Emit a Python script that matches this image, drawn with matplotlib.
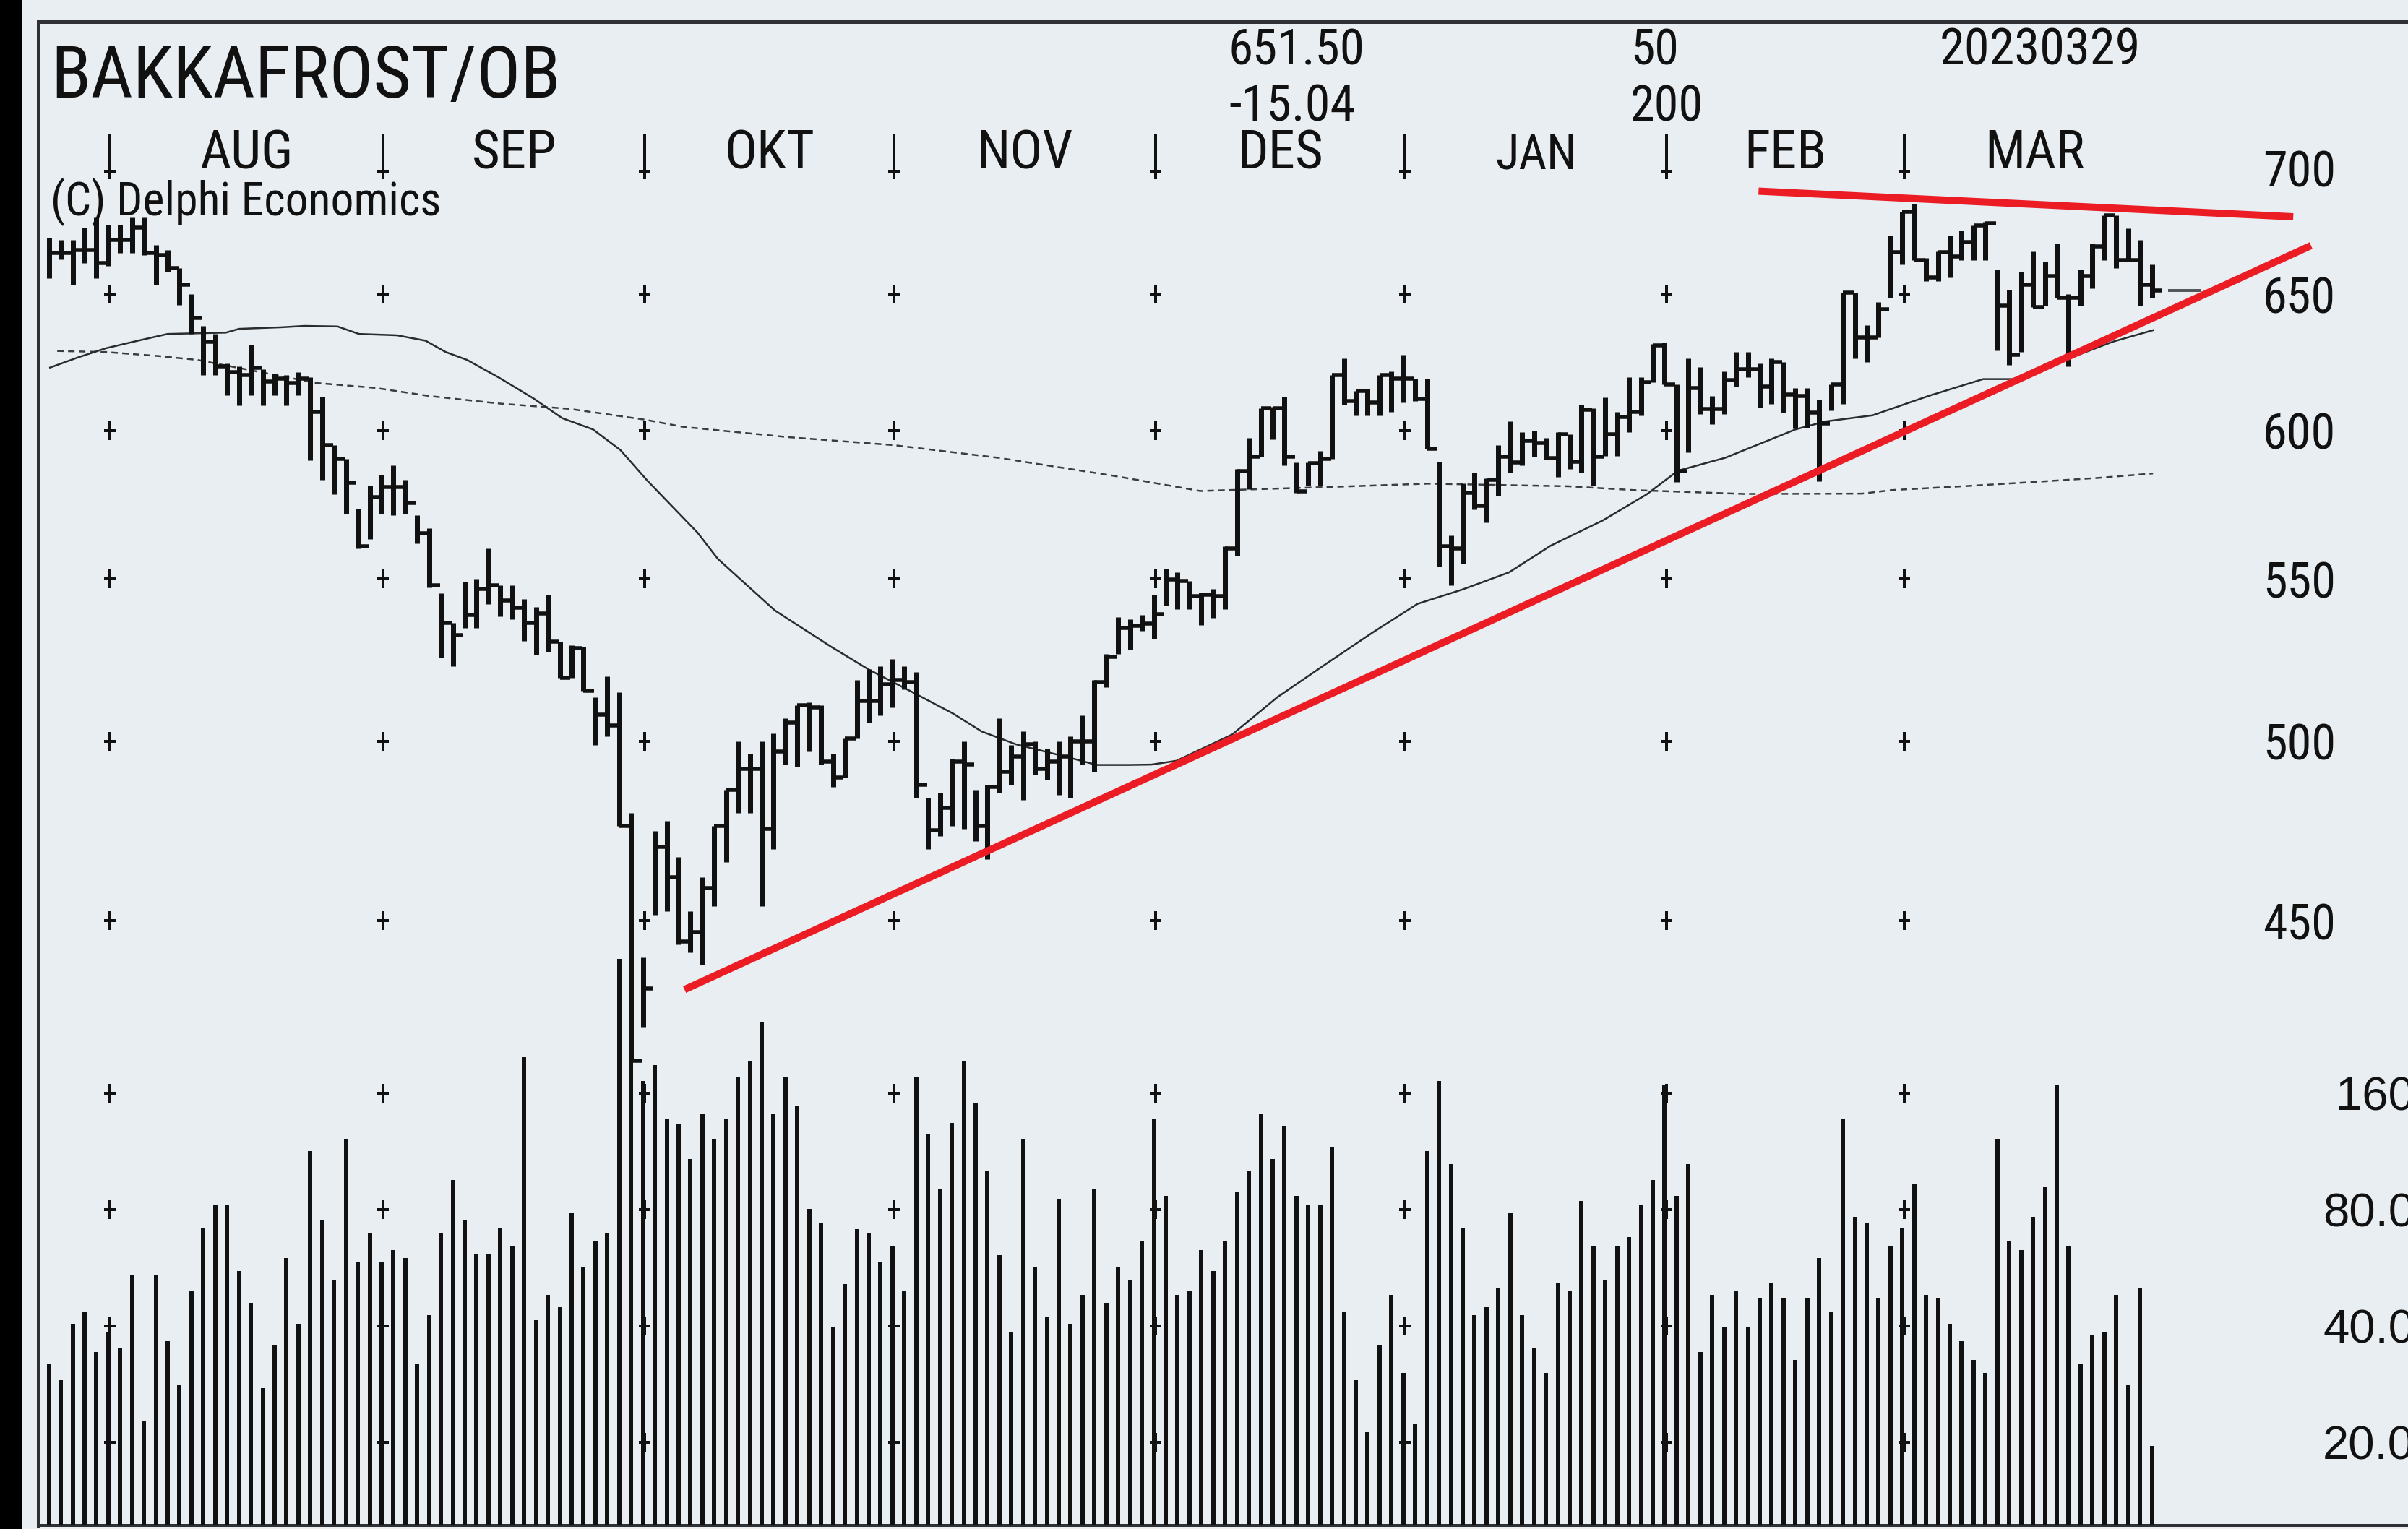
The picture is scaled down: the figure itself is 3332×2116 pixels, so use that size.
import matplotlib
matplotlib.use("Agg")
import matplotlib.pyplot as plt
import numpy as np
from matplotlib import font_manager
from matplotlib.patches import Rectangle
from matplotlib.ticker import FixedLocator, NullLocator

W, H, DPI = 3332, 2116, 100


def pt(pixels):
    # pixel size -> points at this dpi
    return pixels * 72.0 / DPI


# ---- values, one entry per trading day (late Jul 2022 .. 29 Mar 2023) ----
high = [672, 671, 671, 676, 680, 677, 677, 680, 680, 669,
        667, 660, 650, 638, 635, 624, 623, 631, 622, 620.4,
        619.8, 621, 619, 612, 595, 590, 573, 581, 584.6, 588,
        583, 571, 566.5, 545.4, 536, 549, 550, 560, 548, 548,
        543.6, 541, 545, 530, 529, 528.6, 513, 519.5, 514.6, 479.4,
        440.4, 474.3, 477.2, 467.1, 452.6, 461.6, 475.8, 485.9, 500, 496.3,
        500, 502.3, 506.9, 510.7, 511.5, 510.7, 496.3, 500.8, 518.4, 521.6,
        522.4, 524.8, 522.4, 520.8, 483.8, 485.2, 494.8, 500, 485.9, 487.4,
        506.9, 499, 503, 500, 497.8, 500, 501.5, 507.6, 518.4, 526.2,
        537.7, 537, 538.5, 545, 553.4, 552.2, 549.2, 545.6, 546.8, 560.5,
        586.6, 597.5, 608, 608.4, 612, 589, 589, 593, 620, 626,
        614, 615, 620, 621.2, 627.2, 618.5, 618.5, 589.2, 564.3, 581.6,
        585.4, 583.5, 595, 603.3, 599.4, 600, 597.5, 599.4, 598.8, 609.3,
        608, 611.9, 606.7, 619.2, 619.2, 631.4, 631.7, 616.4, 626, 622.7,
        612.3, 621.2, 628.3, 628.3, 624, 626, 624.5, 615.1, 615.1, 610.9,
        616.5, 650.6, 650.6, 638.2, 647.1, 672.6, 682.3, 685.4, 664, 666.6,
        672.6, 674.6, 676.7, 678.3, 659.5, 651.6, 658.5, 666.6, 662.5, 669.6,
        650.1, 659.5, 669.6, 680.8, 680.8, 675.7, 671.1, 661.5]

low = [656, 663.5, 653.5, 662, 656, 661, 666, 666, 665, 653.5,
       658.5, 646, 635, 620, 620, 612.5, 609, 612.5, 609, 612.5,
       609, 612.5, 589.7, 583, 578, 571.4, 560, 563, 571.4, 571,
       571.4, 561.6, 547.2, 525.2, 522.4, 534.3, 534.3, 542, 538, 537,
       530.4, 526, 527, 519, 519, 515, 499, 501.4, 475.8, 414.3,
       422.9, 451.5, 452.6, 443.8, 441.8, 438.5, 453.9, 465.8, 479.4, 479.4,
       453.9, 469.3, 493.3, 492.6, 497, 493.3, 486.7, 489.5, 500.8, 505.4,
       507.6, 510, 515.4, 483.8, 469.3, 472.9, 475.8, 475, 471.5, 466.5,
       485.2, 487.4, 483, 490.3, 488.8, 484.5, 483.8, 493.3, 491.2, 516.2,
       526.2, 527.7, 533.4, 531, 541.5, 540.4, 540.4, 535.2, 537.5, 540.4,
       557.6, 579.7, 591, 597, 588, 578.5, 581, 581, 590, 609.3,
       605.3, 605.3, 605.3, 606.6, 609.9, 610.6, 593.6, 554, 548, 555,
       572.8, 568.5, 577.4, 585.4, 587.9, 591, 589.8, 584, 586.6, 585.4,
       581, 591.1, 591.1, 599.4, 605.3, 617.2, 616.4, 582.2, 592.3, 605.9,
       602.2, 605.9, 615.6, 619, 608.2, 609.5, 606.3, 600.7, 601.1, 582.5,
       607.2, 609.5, 626, 624.5, 633.6, 648.6, 661.5, 663, 655, 655,
       656.5, 663, 663, 663, 628.8, 623.6, 628.3, 645.2, 645.7, 648.6,
       623.1, 645.7, 652.1, 663, 660, 662.5, 645.7, 648.6]

close = [666, 666, 667, 667, 662, 671, 671, 676, 666, 665,
         660, 653.5, 641, 632, 623, 621, 620, 622.5, 617.5, 618.5,
         617, 618.5, 606.6, 595, 590, 582, 560.5, 577, 580.5, 580.5,
         575, 565, 548, 536, 532.2, 538.4, 546.7, 548, 543, 540.7,
         536, 539, 530, 519, 528, 515, 507.9, 504.6, 475.8, 414.5,
         432.4, 470, 461.6, 444.5, 447, 458.8, 475.8, 485.9, 492, 492,
         475, 497, 505.4, 510.7, 510, 494, 489.5, 500.8, 512, 512,
         517, 518.4, 517.7, 487.4, 474.6, 480.8, 494, 493.3, 475.8, 486.7,
         491.2, 495.5, 499.2, 492, 494, 495.5, 500, 500, 517.7, 525.4,
         534.4, 535, 535.8, 538.6, 549.7, 549.2, 544.5, 545, 544.5, 560,
         586, 591, 608, 608, 591, 579, 588.6, 590, 620, 610.6,
         614, 610, 620, 618.5, 618.5, 611.3, 593.6, 560.5, 560, 578.5,
         574, 583, 591, 589, 596.3, 595.6, 590.5, 598.8, 589.2, 607.4,
         591, 598.8, 604.7, 606.7, 617.2, 630.7, 616.4, 586, 615.1, 607.7,
         607.7, 618, 622.1, 622.1, 615.6, 624.5, 612.8, 612.3, 606.3, 602.6,
         616.5, 650.6, 633.6, 633.6, 644.2, 666.1, 682.3, 663, 656.5, 666.1,
         664.5, 670.1, 676.7, 677.5, 645.7, 627.3, 653.5, 645.2, 657, 648.6,
         648.6, 657, 668.6, 680.8, 663, 663, 653.7, 651.5]

volume = [31.8, 28.9, 40.6, 43.5, 34.2, 38.6, 35.2, 54.3, 22.7, 54.3,
          36.5, 28.1, 49.2, 71.6, 82.6, 82.6, 55.6, 46.0, 27.6, 35.8,
          60.0, 40.6, 113.2, 75.0, 52.8, 122.2, 58.8, 69.7, 58.8, 62.9,
          60.0, 31.8, 42.7, 69.7, 95.4, 75.0, 61.6, 61.6, 71.6, 64.3,
          198.6, 41.4, 48.1, 44.7, 78.2, 56.9, 66.1, 69.7, 357, 420,
          172, 188.9, 137.8, 132.8, 108.0, 141.7, 122.2, 137.8, 176.3, 194,
          245, 141.7, 176.3, 148.4, 80.4, 73.8, 39.7, 51.3, 71.3, 69.7,
          58.6, 64.3, 49.2, 176.3, 125.6, 90.6, 134.0, 194, 151.2, 100.3,
          61.1, 38.6, 122.2, 56.9, 42.3, 84.9, 40.6, 48.1, 90.6, 46.0,
          56.9, 52.8, 66.1, 137.8, 87.0, 48.1, 49.2, 62.9, 55.6, 66.1,
          88.7, 100.3, 141.7, 108.0, 131.6, 87.0, 82.6, 82.6, 116.5, 43.5,
          28.9, 21.2, 35.8, 48.1, 30.3, 22.3, 113.2, 171.9, 105.0, 71.6,
          42.7, 44.7, 50.3, 78.2, 42.7, 35.2, 30.3, 51.8, 49.4, 84.1,
          64.3, 52.8, 64.3, 68.0, 82.6, 95.4, 167.4, 87.0, 105.0, 34.2,
          48.1, 39.7, 49.2, 39.7, 47.1, 51.8, 47.1, 32.7, 47.1, 60.0,
          43.5, 137.8, 76.7, 73.8, 47.1, 64.3, 71.6, 93.1, 48.1, 47.1,
          40.6, 36.5, 32.7, 30.3, 122.2, 66.1, 62.9, 76.7, 91.5, 167.4,
          64.3, 31.8, 38.0, 38.6, 48.1, 28.1, 50.3, 19.6]

# moving averages (bar index, price)
ma50_x = [0.1, 2.5, 4.8, 7.5, 10, 14.9, 16, 19.6, 21.5, 24.3, 26.1, 29.3, 31.7, 33.4,
          35.2, 37.9, 40.8, 43.2, 45.8, 48.1, 50.4, 54.6, 56.3, 61.1, 65.8, 69.0, 72.8,
          76.1, 78.5, 81.4, 85.8, 88.2, 90.8, 92.8, 94.9, 99.6, 103.4, 107.2, 111.4,
          115.2, 119.0, 122.9, 126.4, 130.8, 134.5, 137.1, 141.1, 147.0, 149.5, 153.5,
          158.2, 162.8, 165.3, 170.6, 173.7, 177.1]
ma50_y = [622.6, 626.4, 629.7, 632.5, 635.0, 635.5, 636.9, 637.5, 638.0, 637.8, 635.0,
          634.5, 632.5, 628.3, 625.4, 618.9, 611.4, 604.4, 600.4, 593.2, 582.5, 565.1,
          556.5, 539.9, 528.6, 521.5, 514.4, 508.2, 502.9, 499.1, 495.3, 493.1, 493.1,
          493.2, 494.3, 502.0, 513.1, 522.5, 532.9, 542.0, 546.6, 552.1, 560.8, 569.2,
          578.0, 586.0, 590.5, 600.4, 603.2, 605.4, 612.3, 618.4, 618.4, 626.9, 632.1,
          636.4]

ma200_x = [0.7, 4.8, 9.3, 12.5, 22.5, 27.5, 32.0, 37.9, 43.8, 50.1, 53.4, 62.2, 71.1,
           79.9, 89.6, 96.9, 109.6, 116.1, 127.9, 133.4, 142.7, 152.6, 155.1, 161.5,
           168.0, 172.6, 177.1]
ma200_y = [628.7, 628.3, 626.8, 625.4, 617.0, 615.2, 612.3, 609.6, 607.7, 603.9, 601.3,
           597.7, 594.9, 590.5, 584.3, 579.1, 580.7, 581.6, 580.7, 579.4, 578.1, 578.2,
           579.4, 580.8, 582.4, 583.6, 585.1]

month_names = ["AUG", "SEP", "OKT", "NOV", "DES", "JAN", "FEB", "MAR"]
month_start = [5, 28, 50, 71, 93, 114, 136, 156]   # bar index of first trading day

price_ticks = [450, 500, 550, 600, 650, 700]
volume_ticks = [20, 40, 80, 160]
volume_tick_labels = ["20.0", "40.0", "80.0", "160"]

# hand drawn trend lines (bar index, price)
support_x, support_y = [53.5, 190.4], [432.2, 668.8]
resist_x, resist_y = [143.9, 188.9], [690.5, 680.2]
last_price = 651.50

BG = "#E8EEF1"
INK = "#111111"
RED = "#EC1C24"

# ---- fonts: the original uses a narrow sans; take one if installed ----
entries = font_manager.fontManager.ttflist
names = {f.name for f in entries}
NARROW, NARROW_STRETCH = None, "normal"
for cand in ["Liberation Sans Narrow", "Arial Narrow", "Roboto Condensed",
             "Open Sans Condensed", "Noto Sans Condensed", "DejaVu Sans Condensed"]:
    if cand in names:
        NARROW = cand
        break
if NARROW is None:
    cond = sorted({(f.name, f.stretch) for f in entries
                   if str(f.stretch) in ("condensed", "semi-condensed")
                   and "Mono" not in f.name and "Serif" not in f.name})
    if cond:
        NARROW, NARROW_STRETCH = cond[0]
    else:
        NARROW = "Liberation Sans" if "Liberation Sans" in names else "DejaVu Sans"
REGULAR = "Liberation Sans" if "Liberation Sans" in names else "DejaVu Sans"
narrow = dict(family=NARROW, stretch=NARROW_STRETCH)

# ---- layout (pixel calibration of the original) ----
left_px, top_px, bottom_px = 53, 30, 2111
bar0_px, step_px = 67.65, 16.44
k_price = (1274.3 - 407.1) / np.log(650 / 450)
k_vol = (1996 - 1513) / np.log(8)


def price_at(ypx):
    return 650 * np.exp((407.1 - ypx) / k_price)


def vol_at(ypx):
    return 160 * np.exp((1513 - ypx) / k_vol)


fig = plt.figure(figsize=(W / DPI, H / DPI), dpi=DPI, facecolor=BG)
renderer = fig.canvas.get_renderer()


def fit_width(t, width_px):
    # keep the original's text widths when the narrow face is missing
    w = t.get_window_extent(renderer).width
    if w > 0:
        t.set_fontsize(t.get_fontsize() * min(1.1, width_px / w))


rect = [left_px / W, 1 - bottom_px / H, 1 - left_px / W, (bottom_px - top_px) / H]
ax = fig.add_axes(rect)
ax.set_facecolor(BG)
axv = fig.add_axes(rect, sharex=ax)
axv.patch.set_visible(False)

ax.set_xlim((left_px - bar0_px) / step_px, (W - bar0_px) / step_px)
ax.set_yscale("log")
ax.set_ylim(price_at(bottom_px), price_at(top_px))
axv.set_yscale("log")
axv.set_ylim(vol_at(bottom_px), vol_at(top_px))

ax.spines["right"].set_visible(False)
ax.spines["left"].set_linewidth(pt(5))
ax.spines["top"].set_linewidth(pt(5))
ax.spines["bottom"].set_linewidth(pt(4))
for s in ax.spines.values():
    s.set_color("#2e3033")
for s in axv.spines.values():
    s.set_visible(False)

for a in (ax, axv):
    a.tick_params(axis="x", which="both", bottom=False, top=False,
                  labelbottom=False, labeltop=False)
    a.yaxis.tick_right()
    a.yaxis.set_minor_locator(NullLocator())

# price labels sit inside the frame on the right; size them to the original width
probe = fig.text(0, 0, "700", fontsize=49, **narrow)
fit_width(probe, 101)
price_size = probe.get_fontsize()
probe.remove()

ax.yaxis.set_major_locator(FixedLocator(price_ticks))
ax.set_yticklabels([str(p) for p in price_ticks])
ax.tick_params(axis="y", which="major", length=0, pad=pt(-(W - 3232)),
               labelsize=price_size, labelcolor=INK)
for lab in ax.get_yticklabels():
    lab.set_horizontalalignment("right")
    lab.set_family(NARROW)
    lab.set_stretch(NARROW_STRETCH)

axv.yaxis.set_major_locator(FixedLocator(volume_ticks))
axv.set_yticklabels(volume_tick_labels)
axv.tick_params(axis="y", which="major", length=0, pad=pt(9),
                labelsize=47, labelcolor=INK)
for lab in axv.get_yticklabels():
    lab.set_horizontalalignment("right")
    lab.set_family(REGULAR)

# ---- grid crosses at month starts ----
bx = np.array(month_start) + 0.15
gx, gy = np.meshgrid(bx, price_ticks[:-1])
ax.plot(gx.ravel(), gy.ravel(), ls="none", marker="|", ms=pt(26), mew=pt(4),
        color=INK, zorder=1)
ax.plot(gx.ravel(), gy.ravel(), ls="none", marker="_", ms=pt(16), mew=pt(4),
        color=INK, zorder=1)
gx, gy = np.meshgrid(bx, volume_ticks)
axv.plot(gx.ravel(), gy.ravel(), ls="none", marker="|", ms=pt(26), mew=pt(4),
         color=INK, zorder=1)
axv.plot(gx.ravel(), gy.ravel(), ls="none", marker="_", ms=pt(16), mew=pt(4),
         color=INK, zorder=1)
# month separators in the header row
ax.vlines(bx, price_at(248), price_at(185), colors=INK, lw=pt(4), zorder=1)
ax.plot(bx, [price_at(237)] * len(bx), ls="none", marker="_", ms=pt(16),
        mew=pt(4), color=INK, zorder=1)

month_width_px = [130, 123, 130, 134, 125, 113, 119, 138]
ends = list(bx[1:]) + [len(close) + 0.15]
label_y = (bottom_px - 233) / (bottom_px - top_px)
for name, a0, a1, wpx in zip(month_names, bx, ends, month_width_px):
    t = ax.text((a0 + a1) / 2, label_y, name, transform=ax.get_xaxis_transform(),
                ha="center", va="baseline", fontsize=49, color=INK, **narrow)
    fit_width(t, wpx)

# ---- moving averages ----
ax.plot(ma200_x, ma200_y, color="#3a3c3f", lw=pt(2.5), ls=(0, (3.6, 2.4)), zorder=2)
ax.plot(ma50_x, ma50_y, color="#2a2b2d", lw=pt(2.5), zorder=2)

# ---- price bars (high-low with close tick) ----
idx = np.arange(len(close))
ax.vlines(idx, low, high, colors=INK, lw=pt(7), capstyle="butt", zorder=3)
ax.hlines(close, idx, idx + 0.9, colors=INK, lw=pt(5.5), capstyle="butt", zorder=3)
ax.plot([len(close) + 0.5, len(close) + 3.0], [last_price, last_price],
        color="#55585b", lw=pt(4), zorder=3)

# ---- volume ----
axv.vlines(idx, vol_at(bottom_px + 20), volume, colors=INK, lw=pt(6),
           capstyle="butt", zorder=2)

# ---- trend lines ----
ax.plot(support_x, support_y, color=RED, lw=pt(10), solid_capstyle="butt", zorder=4)
ax.plot(resist_x, resist_y, color=RED, lw=pt(10), solid_capstyle="butt", zorder=4)


# ---- header text ----
def ftext(x, y, s, size, width_px):
    t = fig.text(x / W, 1 - y / H, s, fontsize=size, color=INK, ha="left",
                 va="baseline", **narrow)
    fit_width(t, width_px)


ftext(70, 135, "BAKKAFROST/OB", 72, 705)
ftext(70, 298, "(C) Delphi Economics", 45, 540)
ftext(1700, 90, "651.50", 51, 189)
ftext(1700, 167, "-15.04", 51, 175)
ftext(2256, 90, "50", 51, 67)
ftext(2256, 167, "200", 51, 101)
ftext(2684, 90, "20230329", 51, 278)

fig.add_artist(Rectangle((0, 0), 29.5 / W, 1, transform=fig.transFigure,
                         facecolor="black", edgecolor="none"))

fig.savefig("out.png", dpi=DPI, facecolor=BG)
